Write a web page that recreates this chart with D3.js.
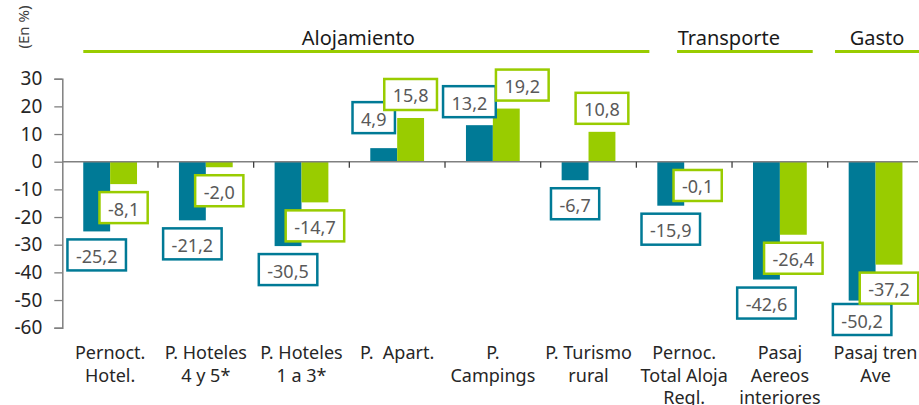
<!DOCTYPE html>
<html>
<head>
<meta charset="utf-8">
<script src="https://cdn.jsdelivr.net/npm/d3@7"></script>
<style>
  html, body { margin: 0; padding: 0; background: #fff; }
  svg { display: block; font-family: "Noto Sans", "Open Sans", sans-serif; }
</style>
</head>
<body>
<svg id="chart" width="919" height="405"></svg>
<script>
// ---- data ----
const categories = [
  "Pernoct.|Hotel.",
  "P. Hoteles|4 y 5*",
  "P. Hoteles|1 a 3*",
  "P.  Apart.",
  "P.|Campings",
  "P. Turismo|rural",
  "Pernoc.|Total Aloja|Regl.",
  "Pasaj|Aereos|interiores",
  "Pasaj tren|Ave"
];
const seriesA = [-25.2, -21.2, -30.5, 4.9, 13.2, -6.7, -15.9, -42.6, -50.2]; // teal
const seriesB = [-8.1, -2.0, -14.7, 15.8, 19.2, 10.8, -0.1, -26.4, -37.2];   // green
const yTicks = [30, 20, 10, 0, -10, -20, -30, -40, -50, -60];
const groupNames = ["Alojamiento", "Transporte", "Gasto"];
const groupFirst = [0, 6, 8];
const groupLast = [5, 7, 8];
const yAxisTitle = "(En %)";

(function () {
// ---- layout ----
const TEAL = "#007A96", GREEN = "#99CC00";
const svg = d3.select("#chart");
const pLeft = 62.3, pRight = 923.4, pTop = 78.7, pBottom = 327.7;

const x0 = d3.scaleBand().domain(d3.range(categories.length)).range([pLeft, pRight]).padding(0);
const step = x0.bandwidth();
const x1 = d3.scaleBand().domain(["A", "B"]).range([step * 0.219, step * 0.781]).padding(0);
const y = d3.scaleLinear().domain([-60, 30]).range([pBottom, pTop]);

// y axis
const yAxis = d3.axisLeft(y).tickValues(yTicks).tickSize(8).tickPadding(12).tickFormat(d => d);
const gy = svg.append("g").attr("transform", `translate(${pLeft},0)`).call(yAxis);
gy.select(".domain").attr("stroke", "#808080").attr("stroke-width", 1.5);
gy.selectAll(".tick line").attr("stroke", "#808080").attr("stroke-width", 1.3);
gy.selectAll(".tick text").attr("font-size", 19).attr("fill", "#262626")
  .attr("font-family", "'Noto Sans', sans-serif");

// y title
svg.append("text").attr("transform", "translate(23,27) rotate(-90)")
  .attr("text-anchor", "middle").attr("dominant-baseline", "central")
  .attr("font-size", 15).attr("fill", "#404040").text(yAxisTitle);

// bars
const rows = categories.map((c, i) => ({ i, A: seriesA[i], B: seriesB[i] }));
const bars = svg.append("g");
rows.forEach(r => {
  [["A", r.A, TEAL], ["B", r.B, GREEN]].forEach(([k, v, col]) => {
    bars.append("rect")
      .attr("x", x0(r.i) + x1(k))
      .attr("width", x1.bandwidth())
      .attr("y", Math.min(y(v), y(0)))
      .attr("height", Math.abs(y(v) - y(0)))
      .attr("fill", col);
  });
});

// zero line & category ticks
const zx = svg.append("g").attr("transform", `translate(0,${y(0)})`);
zx.append("line").attr("x1", pLeft).attr("x2", 918).attr("y1", 0).attr("y2", 0)
  .attr("stroke", "#808080").attr("stroke-width", 1.5);
d3.range(1, categories.length + 1).forEach(i => {
  const xx = pLeft + i * step;
  if (xx < 919) zx.append("line").attr("x1", xx).attr("x2", xx).attr("y1", 0).attr("y2", 6)
    .attr("stroke", "#404040").attr("stroke-width", 1.3);
});

// category labels
categories.forEach((c, i) => {
  const t = svg.append("text").attr("text-anchor", "middle").attr("font-size", 18)
    .attr("fill", "#262626").attr("x", x0(i) + step / 2).attr("y", 359);
  c.split("|").forEach((ln, j) => {
    t.append("tspan").attr("x", x0(i) + step / 2).attr("dy", j === 0 ? 0 : 22.5)
      .attr("xml:space", "preserve").text(ln);
  });
});

// value labels (label nudges mimic the manual placement in the original)
const nudge = { "A3": [-10, -7], "A4": [-10, 0], "B4": [16, 0] };
const fmt = v => v.toFixed(1).replace(".", ",");
const labels = svg.append("g");
rows.forEach(r => {
  [["A", r.A, TEAL], ["B", r.B, GREEN]].forEach(([k, v, col]) => {
    const nd = nudge[k + r.i] || [0, 0];
    const cx = x0(r.i) + x1(k) + x1.bandwidth() / 2 + nd[0];
    const g = labels.append("g");
    const txt = g.append("text").attr("text-anchor", "middle").attr("dominant-baseline", "central")
      .attr("font-size", 18).attr("fill", "#595959").text(fmt(v));
    const w = txt.node().getComputedTextLength() + 17;
    const h = 31, gap = 8;
    let ty = (v >= 0 ? y(v) - gap - h : y(v) + gap) + nd[1];
    if (ty + h > 335) ty = 335 - h;
    g.insert("rect", "text").attr("x", cx - w / 2).attr("y", ty).attr("width", w).attr("height", h)
      .attr("fill", "#fff").attr("stroke", col).attr("stroke-width", 2.5);
    txt.attr("x", cx).attr("y", ty + h / 2 + 1);
  });
});

// group headers
const headerInset = [[21, -13], [40.7, 15], [7.3, -8]];
groupNames.forEach((name, gi) => {
  const xa = x0(groupFirst[gi]) + headerInset[gi][0];
  const xb = Math.min(919, x0(groupLast[gi]) + step - headerInset[gi][1]);
  svg.append("line").attr("x1", xa).attr("x2", xb).attr("y1", 51.5).attr("y2", 51.5)
    .attr("stroke", GREEN).attr("stroke-width", 3);
  const tc = gi === 0 ? (xa + xb) / 2 - 8 : gi === 1 ? (xa + xb) / 2 - 16 : (xa + xb) / 2;
  svg.append("text").attr("x", tc).attr("y", 45).attr("text-anchor", "middle")
    .attr("font-size", 20).attr("fill", "#1a1a1a").text(name);
});
})();
</script>
</body>
</html>
